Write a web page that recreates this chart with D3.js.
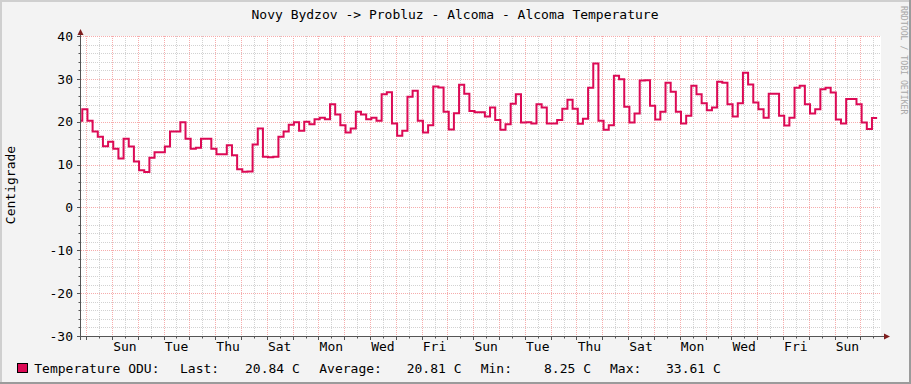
<!DOCTYPE html>
<html>
<head>
<meta charset="utf-8">
<script src="https://cdn.jsdelivr.net/npm/d3@7"></script>
<style>
body { margin: 0; background: #f3f3f3; }
svg { display: block; }
text { font-family: "DejaVu Sans Mono", monospace; fill: #000; }
</style>
</head>
<body>
<div id="chart"></div>
<script>
const w = 911;
const h = 384;

const title = "Novy Bydzov -> Probluz - Alcoma - Alcoma Temperature";
const yLabel = "Centigrade";
const watermark = "RRDTOOL / TOBI OETIKER";
const yTicks = [40, 30, 20, 10, 0, -10, -20, -30];
const seriesName = "Temperature ODU:";
const statLabels = ["Last:", "Average:", "Min:", "Max:"];
const statValues = ["20.84 C", "20.81 C", "8.25 C", "33.61 C"];

// time window of the graph and the sample grid (one value every 4.8 h)
const startTime = new Date(2021, 5, 4, 19, 12);
const endTime = new Date(2021, 6, 5, 19, 12);
const firstSample = new Date(2021, 5, 4, 15, 36);
const stepHours = 4.8;

// temperatures, 5 per day, Fri evening -> Mon afternoon
const temps = [
    20.2, 22.9,
    20.2, 17.7, 16.5, 14.3, 15.3,
    13.7, 11.4, 16.0, 14.2, 10.7,
    8.7, 8.25, 11.6, 12.9, 12.9,
    14.2, 17.7, 17.7, 19.9, 16.0,
    13.7, 13.9, 16.0, 16.0, 13.7,
    12.4, 12.4, 14.5, 12.2, 8.9,
    8.3, 8.4, 14.7, 18.4, 11.8,
    11.7, 11.8, 16.5, 17.7, 19.3,
    19.9, 17.9, 20.0, 19.4, 20.6,
    20.9, 20.6, 24.1, 21.7, 19.2,
    17.5, 18.4, 22.3, 21.7, 20.6,
    20.9, 20.2, 26.4, 26.9, 19.6,
    16.7, 17.9, 25.8, 27.2, 20.2,
    17.5, 19.2, 28.2, 28.0, 22.3,
    18.2, 22.0, 28.6, 26.5, 22.5,
    22.2, 22.2, 21.2, 23.3, 20.4,
    18.1, 19.4, 24.2, 26.4, 19.8,
    19.9, 19.6, 24.1, 23.3, 19.6,
    19.6, 20.4, 23.0, 25.1, 23.0,
    19.5, 20.7, 27.9, 33.61, 20.2,
    18.1, 19.2, 30.7, 29.9, 23.5,
    19.8, 21.9, 29.6, 29.7, 23.7,
    20.5, 22.3, 29.1, 27.0, 22.3,
    19.6, 21.4, 28.4, 26.4, 24.3,
    22.7, 23.3, 29.3, 29.1, 24.1,
    21.2, 24.3, 31.4, 28.7, 24.5,
    22.9, 20.9, 26.5, 26.5, 21.4,
    19.1, 20.9, 27.9, 28.4, 24.1,
    21.9, 22.9, 27.6, 27.9, 26.8,
    20.5, 19.6, 25.3, 25.3, 24.1,
    19.8, 18.3, 20.84
];

const plotLeft = 81, plotRight = 881, plotTop = 36, plotBottom = 336;
const lineColor = "#dc0a55";
const axisColor = "#555";
const arrowColor = "#7f1f1f";

const svg = d3.select("#chart")
    .append("svg")
    .attr("width", w)
    .attr("height", h);

// background + shading border
svg.append("rect").attr("width", w).attr("height", h).attr("fill", "#f3f3f3");
svg.append("path").attr("d", `M0,0H${w}V2H2V${h}H0Z`).attr("fill", "#cfcfcf");
svg.append("path").attr("d", `M${w},0V${h}H0V${h - 2}H${w - 2}V0Z`).attr("fill", "#9b9b9b");

const x = d3.scaleTime().domain([startTime, endTime]).range([plotLeft, plotRight]);
const y = d3.scaleLinear().domain([-30, 40]).range([plotBottom, plotTop]);
const px = v => Math.round(v) + 0.5;

svg.append("rect")
    .attr("x", plotLeft).attr("y", plotTop)
    .attr("width", plotRight - plotLeft).attr("height", plotBottom - plotTop)
    .attr("fill", "#fff");

// grid
const minorY = d3.range(-30, 41, 2).filter(v => v % 10 !== 0);
const midnights = d3.timeDay.range(d3.timeDay.ceil(startTime), endTime);
const noons = d3.timeDay.range(d3.timeDay.floor(startTime), endTime)
    .map(d => d3.timeHour.offset(d, 12))
    .filter(d => d > startTime && d < endTime);

const grid = svg.append("g").attr("stroke-width", 1).attr("stroke-dasharray", "1,1");

grid.selectAll(".hminor").data(minorY).enter().append("line")
    .attr("x1", plotLeft).attr("x2", plotRight)
    .attr("y1", d => px(y(d))).attr("y2", d => px(y(d)))
    .attr("stroke", "#d2d2d2");

grid.selectAll(".vminor").data(noons).enter().append("line")
    .attr("x1", d => px(x(d))).attr("x2", d => px(x(d)))
    .attr("y1", plotTop).attr("y2", plotBottom)
    .attr("stroke", "#d2d2d2");

grid.selectAll(".hmajor").data(yTicks).enter().append("line")
    .attr("x1", plotLeft).attr("x2", plotRight)
    .attr("y1", d => px(y(d))).attr("y2", d => px(y(d)))
    .attr("stroke", "#f6acac");

grid.selectAll(".vmajor").data(midnights).enter().append("line")
    .attr("x1", d => px(x(d))).attr("x2", d => px(x(d)))
    .attr("y1", plotTop).attr("y2", plotBottom)
    .attr("stroke", "#f6acac");

// data line
const stepMs = stepHours * 3600e3;
const points = temps.map((v, i) => ({t: new Date(+firstSample + i * stepMs), v: v}));
points.push({t: new Date(+firstSample + temps.length * stepMs), v: temps[temps.length - 1]});

svg.append("clipPath").attr("id", "clip")
    .append("rect").attr("x", plotLeft).attr("y", 0).attr("width", plotRight - plotLeft).attr("height", h);

const line = d3.line()
    .x(d => x(d.t))
    .y(d => y(d.v))
    .curve(d3.curveStepAfter);

svg.append("path")
    .datum(points)
    .attr("clip-path", "url(#clip)")
    .attr("d", line)
    .attr("fill", "none")
    .attr("stroke", lineColor)
    .attr("stroke-width", 2);

// axes
const ax = svg.append("g").attr("stroke", axisColor).attr("stroke-width", 1);
ax.append("line").attr("x1", 80.5).attr("x2", 80.5).attr("y1", 33).attr("y2", 340);
ax.append("line").attr("x1", 77).attr("x2", 885).attr("y1", 336.5).attr("y2", 336.5);

ax.selectAll(".ytick").data(yTicks).enter().append("line")
    .attr("x1", 77).attr("x2", 80.5)
    .attr("y1", d => px(y(d))).attr("y2", d => px(y(d)));
ax.selectAll(".ytickm").data(minorY).enter().append("line")
    .attr("x1", 78.5).attr("x2", 80.5)
    .attr("y1", d => px(y(d))).attr("y2", d => px(y(d)));
ax.selectAll(".xtick").data(midnights).enter().append("line")
    .attr("x1", d => px(x(d))).attr("x2", d => px(x(d)))
    .attr("y1", 336.5).attr("y2", 340);
ax.selectAll(".xtickm").data(noons).enter().append("line")
    .attr("x1", d => px(x(d))).attr("x2", d => px(x(d)))
    .attr("y1", 336.5).attr("y2", 338.5);

svg.append("path").attr("d", "M77.5,35L80.5,29L83.5,35Z").attr("fill", arrowColor);
svg.append("path").attr("d", "M884,333.5L890,336.5L884,339.5Z").attr("fill", arrowColor);

// y tick labels
svg.selectAll(".ylab").data(yTicks).enter().append("text")
    .attr("x", 73)
    .attr("y", d => y(d) + 4.7)
    .attr("text-anchor", "end")
    .style("font-size", "13px")
    .text(d => d);

// x labels: weekday every second day, centred at noon
const labelStart = new Date(2021, 5, 6);
const labelDays = midnights.filter(d => d >= labelStart && d3.timeDay.count(labelStart, d) % 2 === 0);
svg.selectAll(".xlab").data(labelDays).enter().append("text")
    .attr("x", d => x(d3.timeHour.offset(d, 12)))
    .attr("y", 351)
    .attr("text-anchor", "middle")
    .style("font-size", "13px")
    .text(d => d3.timeFormat("%a")(d));

// title
svg.append("text")
    .attr("x", 455)
    .attr("y", 19.3)
    .attr("text-anchor", "middle")
    .style("font-size", "13px")
    .text(title);

// y axis label
svg.append("text")
    .attr("transform", "translate(14.5,185) rotate(-90)")
    .attr("text-anchor", "middle")
    .style("font-size", "13px")
    .text(yLabel);

// watermark
svg.append("text")
    .attr("transform", "translate(900.5,6) rotate(90)")
    .style("font-size", "8.2px")
    .style("fill", "#a8a8a8")
    .text(watermark);

// legend
svg.append("rect")
    .attr("x", 17.5).attr("y", 363.5)
    .attr("width", 10).attr("height", 9)
    .attr("fill", lineColor)
    .attr("stroke", "#000");

const legendX = [180, 319.3, 480.7, 610];
const legendValX = [245, 406.7, 544, 666];
svg.append("text").attr("x", 34.3).attr("y", 373.3).style("font-size", "13px").text(seriesName);
svg.selectAll(".slab").data(statLabels).enter().append("text")
    .attr("x", (d, i) => legendX[i]).attr("y", 373.3)
    .style("font-size", "13px")
    .text(d => d);
svg.selectAll(".sval").data(statValues).enter().append("text")
    .attr("x", (d, i) => legendValX[i]).attr("y", 373.3)
    .style("font-size", "13px")
    .text(d => d);
</script>
</body>
</html>
